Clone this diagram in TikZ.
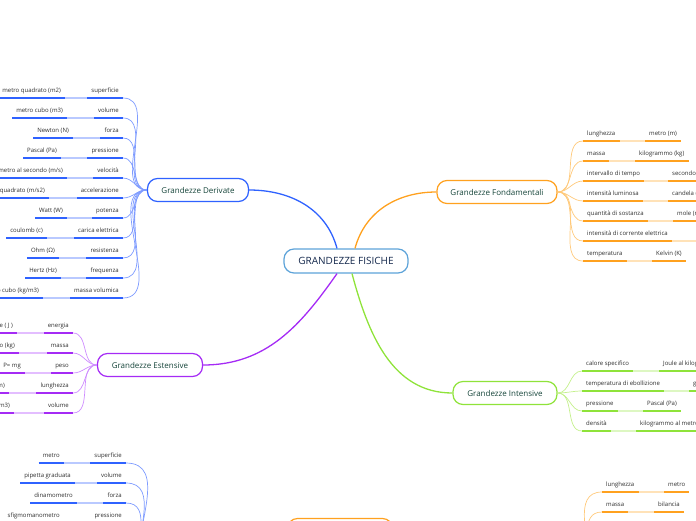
\documentclass[tikz,border=0pt]{standalone}
\usepackage{fontspec}
\setmainfont{Open Sans}
\usetikzlibrary{positioning}

\definecolor{rootline}{HTML}{5DA3D9}
\definecolor{roottext}{HTML}{15294D}
\definecolor{topictext}{HTML}{16453A}
\definecolor{leaftext}{HTML}{2E2E2E}
\definecolor{dblue}{HTML}{2F62FF}
\definecolor{dlink}{HTML}{7E9BFF}
\definecolor{dlight}{HTML}{B9C9FF}
\definecolor{epurple}{HTML}{A52BF5}
\definecolor{elink}{HTML}{CE8CFF}
\definecolor{elight}{HTML}{E3BDFF}
\definecolor{forange}{HTML}{FFA11F}
\definecolor{flink}{HTML}{FFC97A}
\definecolor{flight}{HTML}{FFE2B8}
\definecolor{igreen}{HTML}{8FE33A}
\definecolor{ilink}{HTML}{C4F08C}
\definecolor{ilight}{HTML}{DDF7C2}

\begin{document}
\begin{tikzpicture}[
  x=1pt,y=-1pt,
  every node/.style={scale=1.0},
  root/.style={draw=rootline,line width=1.2pt,rounded corners=10pt,fill=white,minimum width=124pt,minimum height=24pt,font=\fontsize{10}{11}\selectfont,text=roottext},
  topic/.style={draw=#1,line width=1.2pt,rounded corners=10pt,fill=white,minimum height=23pt,font=\fontsize{8}{9}\selectfont,text=topictext},
  leaf/.style={inner xsep=4pt,inner ysep=3.5pt,text height=4pt,text depth=1.5pt,font=\fontsize{6}{7}\selectfont,text=leaftext,
    append after command={(\tikzlastnode.south west) edge[draw=#1,line width=1.6pt] (\tikzlastnode.south east)}},
  gap/.style={draw=#1,line width=1.6pt},
  link/.style={draw=#1,line width=0.7pt},
  trunk/.style={draw=#1,line width=1.3pt},
]
\useasboundingbox (0,0) rectangle (696,520);
\clip (0,0) rectangle (696,520);

% main topics
\node (root) [root] at (346,261) {GRANDEZZE FISICHE};
\node (deriv) [topic=dblue,minimum width=101pt] at (198,190) {Grandezze Derivate};
\node (fond) [topic=forange,minimum width=120pt] at (497,192) {Grandezze Fondamentali};
\node (inten) [topic=igreen,minimum width=104pt] at (505,393) {Grandezze Intensive};
\node (esten) [topic=epurple,minimum width=105pt] at (150,365) {Grandezze Estensive};
\node (strum) [topic=forange,minimum width=105pt] at (340,530) {};
\draw[trunk=dblue] ([xshift=-9pt]root.north) to[out=105,in=0] (deriv.east);
\draw[trunk=forange] ([xshift=9pt]root.north) to[out=75,in=180] (fond.west);
\draw[trunk=epurple] ([xshift=-9pt]root.south) to[out=235,in=0] (esten.east);
\draw[trunk=igreen] ([xshift=6pt]root.south) to[out=-75,in=180] (inten.west);

% Grandezze Derivate
\node (d1) [leaf=dblue,anchor=south east] at (123,98) {superficie};
\node (d1u) [leaf=dblue,anchor=south east] at (65,98) {metro quadrato (m2)};
\node (d2) [leaf=dblue,anchor=south east] at (123,118) {volume};
\node (d2u) [leaf=dblue,anchor=south east] at (67,118) {metro cubo (m3)};
\node (d3) [leaf=dblue,anchor=south east] at (123,138) {forza};
\node (d3u) [leaf=dblue,anchor=south east] at (73,138) {Newton (N)};
\node (d4) [leaf=dblue,anchor=south east] at (123,158) {pressione};
\node (d4u) [leaf=dblue,anchor=south east] at (61,158) {Pascal (Pa)};
\node (d5) [leaf=dblue,anchor=south east] at (123,178) {velocità};
\node (d5u) [leaf=dblue,anchor=south east] at (67,178) {metro al secondo (m/s)};
\node (d6) [leaf=dblue,anchor=south east] at (123,198) {accelerazione};
\node (d6u) [leaf=dblue,anchor=south east] at (49,198) {metro al secondo quadrato (m/s2)};
\node (d7) [leaf=dblue,anchor=south east] at (123,218) {potenza};
\node (d7u) [leaf=dblue,anchor=south east] at (67,218) {Watt (W)};
\node (d8) [leaf=dblue,anchor=south east] at (123,238) {carica elettrica};
\node (d8u) [leaf=dblue,anchor=south east] at (47,238) {coulomb (c)};
\node (d9) [leaf=dblue,anchor=south east] at (123,258) {resistenza};
\node (d9u) [leaf=dblue,anchor=south east] at (59,258) {Ohm (Ω)};
\node (d10) [leaf=dblue,anchor=south east] at (123,278) {frequenza};
\node (d10u) [leaf=dblue,anchor=south east] at (61,278) {Hertz (Hz)};
\node (d11) [leaf=dblue,anchor=south east] at (123,298) {massa volumica};
\node (d11u) [leaf=dblue,anchor=south east] at (43,298) {kilogrammo al metro cubo (kg/m3)};
\draw[gap=dlight] (d1u.south east) -- (d1.south west);
\draw[gap=dlight] (d2u.south east) -- (d2.south west);
\draw[gap=dlight] (d3u.south east) -- (d3.south west);
\draw[gap=dlight] (d4u.south east) -- (d4.south west);
\draw[gap=dlight] (d5u.south east) -- (d5.south west);
\draw[gap=dlight] (d6u.south east) -- (d6.south west);
\draw[gap=dlight] (d7u.south east) -- (d7.south west);
\draw[gap=dlight] (d8u.south east) -- (d8.south west);
\draw[gap=dlight] (d9u.south east) -- (d9.south west);
\draw[gap=dlight] (d10u.south east) -- (d10.south west);
\draw[gap=dlight] (d11u.south east) -- (d11.south west);
\draw[link=dlink] (d1.south east) to[out=0,in=180] (deriv.west);
\draw[link=dlink] (d2.south east) to[out=0,in=180] (deriv.west);
\draw[link=dlink] (d3.south east) to[out=0,in=180] (deriv.west);
\draw[link=dlink] (d4.south east) to[out=0,in=180] (deriv.west);
\draw[link=dlink] (d5.south east) to[out=0,in=180] (deriv.west);
\draw[link=dlink] (d6.south east) to[out=0,in=180] (deriv.west);
\draw[link=dlink] (d7.south east) to[out=0,in=180] (deriv.west);
\draw[link=dlink] (d8.south east) to[out=0,in=180] (deriv.west);
\draw[link=dlink] (d9.south east) to[out=0,in=180] (deriv.west);
\draw[link=dlink] (d10.south east) to[out=0,in=180] (deriv.west);
\draw[link=dlink] (d11.south east) to[out=0,in=180] (deriv.west);

% Grandezze Estensive
\node (e1) [leaf=epurple,anchor=south east] at (73,333) {energia};
\node (e1u) [leaf=epurple,anchor=south east] at (17,333) {Joule ( J )};
\node (e2) [leaf=epurple,anchor=south east] at (73,353) {massa};
\node (e2u) [leaf=epurple,anchor=south east] at (19,353) {kilogrammo (kg)};
\node (e3) [leaf=epurple,anchor=south east] at (73,373) {peso};
\node (e3u) [leaf=epurple,anchor=south east] at (25,373) {P= mg};
\node (e4) [leaf=epurple,anchor=south east] at (73,393) {lunghezza};
\node (e4u) [leaf=epurple,anchor=south east] at (9,393) {metro (m)};
\node (e5) [leaf=epurple,anchor=south east] at (73,413) {volume};
\node (e5u) [leaf=epurple,anchor=south east] at (14,413) {metro cubo (m3)};
\draw[gap=elight] (e1u.south east) -- (e1.south west);
\draw[gap=elight] (e2u.south east) -- (e2.south west);
\draw[gap=elight] (e3u.south east) -- (e3.south west);
\draw[gap=elight] (e4u.south east) -- (e4.south west);
\draw[gap=elight] (e5u.south east) -- (e5.south west);
\draw[link=elink] (e1.south east) to[out=0,in=180] (esten.west);
\draw[link=elink] (e2.south east) to[out=0,in=180] (esten.west);
\draw[link=elink] (e3.south east) to[out=0,in=180] (esten.west);
\draw[link=elink] (e4.south east) to[out=0,in=180] (esten.west);
\draw[link=elink] (e5.south east) to[out=0,in=180] (esten.west);

% Grandezze Fondamentali
\node (f1) [leaf=forange,anchor=south west] at (583,141) {lunghezza};
\node (f1u) [leaf=forange,anchor=south west] at (645,141) {metro (m)};
\node (f2) [leaf=forange,anchor=south west] at (583,161) {massa};
\node (f2u) [leaf=forange,anchor=south west] at (635,161) {kilogrammo (kg)};
\node (f3) [leaf=forange,anchor=south west] at (583,181) {intervallo di tempo};
\node (f3u) [leaf=forange,anchor=south west] at (668,181) {secondo (s)};
\node (f4) [leaf=forange,anchor=south west] at (583,201) {intensità luminosa};
\node (f4u) [leaf=forange,anchor=south west] at (668,201) {candela (cd)};
\node (f5) [leaf=forange,anchor=south west] at (583,221) {quantità di sostanza};
\node (f5u) [leaf=forange,anchor=south west] at (673,221) {mole (mol)};
\node (f6) [leaf=forange,anchor=south west] at (583,241) {intensità di corrente elettrica};
\coordinate (f6u) at (710,241);
\node (f7) [leaf=forange,anchor=south west] at (583,261) {temperatura};
\node (f7u) [leaf=forange,anchor=south west] at (652,261) {Kelvin (K)};
\draw[gap=flight] (f1.south east) -- (f1u.south west);
\draw[gap=flight] (f2.south east) -- (f2u.south west);
\draw[gap=flight] (f3.south east) -- (f3u.south west);
\draw[gap=flight] (f4.south east) -- (f4u.south west);
\draw[gap=flight] (f5.south east) -- (f5u.south west);
\draw[gap=flight] (f6.south east) -- (f6u);
\draw[gap=flight] (f7.south east) -- (f7u.south west);
\draw[link=flink] (fond.east) to[out=0,in=180] (f1.south west);
\draw[link=flink] (fond.east) to[out=0,in=180] (f2.south west);
\draw[link=flink] (fond.east) to[out=0,in=180] (f3.south west);
\draw[link=flink] (fond.east) to[out=0,in=180] (f4.south west);
\draw[link=flink] (fond.east) to[out=0,in=180] (f5.south west);
\draw[link=flink] (fond.east) to[out=0,in=180] (f6.south west);
\draw[link=flink] (fond.east) to[out=0,in=180] (f7.south west);

% Grandezze Intensive
\node (i1) [leaf=igreen,anchor=south west] at (582,371) {calore specifico};
\node (i1u) [leaf=igreen,anchor=south west] at (659,371) {Joule al kilogrammo per kelvin (J/kg K)};
\node (i2) [leaf=igreen,anchor=south west] at (582,391) {temperatura di ebollizione};
\node (i2u) [leaf=igreen,anchor=south west] at (689,391) {gradi Celsius (°C)};
\node (i3) [leaf=igreen,anchor=south west] at (582,411) {pressione};
\node (i3u) [leaf=igreen,anchor=south west] at (643,411) {Pascal (Pa)};
\node (i4) [leaf=igreen,anchor=south west] at (582,431) {densità};
\node (i4u) [leaf=igreen,anchor=south west] at (636,431) {kilogrammo al metro cubo (kg/m3)};
\draw[gap=ilight] (i1.south east) -- (i1u.south west);
\draw[gap=ilight] (i2.south east) -- (i2u.south west);
\draw[gap=ilight] (i3.south east) -- (i3u.south west);
\draw[gap=ilight] (i4.south east) -- (i4u.south west);
\draw[link=ilink] (inten.east) to[out=0,in=180] (i1.south west);
\draw[link=ilink] (inten.east) to[out=0,in=180] (i2.south west);
\draw[link=ilink] (inten.east) to[out=0,in=180] (i3.south west);
\draw[link=ilink] (inten.east) to[out=0,in=180] (i4.south west);

% strumenti (lower part)
\coordinate (sl) at (136,570);
\node (s1) [leaf=dblue,anchor=south east] at (126,463) {superficie};
\node (s1u) [leaf=dblue,anchor=south east] at (64,463) {metro};
\node (s2) [leaf=dblue,anchor=south east] at (126,483) {volume};
\node (s2u) [leaf=dblue,anchor=south east] at (75,483) {pipetta graduata};
\node (s3) [leaf=dblue,anchor=south east] at (126,503) {forza};
\node (s3u) [leaf=dblue,anchor=south east] at (77,503) {dinamometro};
\node (s4) [leaf=dblue,anchor=south east] at (126,523) {pressione};
\node (s4u) [leaf=dblue,anchor=south east] at (64,523) {sfigmomanometro};
\draw[gap=dlight] (s1u.south east) -- (s1.south west);
\draw[gap=dlight] (s2u.south east) -- (s2.south west);
\draw[gap=dlight] (s3u.south east) -- (s3.south west);
\draw[gap=dlight] (s4u.south east) -- (s4.south west);
\draw[link=dlink] (s1.south east) to[out=0,in=90] (sl);
\draw[link=dlink] (s2.south east) to[out=0,in=90] (sl);
\draw[link=dlink] (s3.south east) to[out=0,in=90] (sl);
\draw[link=dlink] (s4.south east) to[out=0,in=90] (sl);

\coordinate (sr) at (590,570);
\node (r1) [leaf=forange,anchor=south west] at (602,492) {lunghezza};
\node (r1u) [leaf=forange,anchor=south west] at (664,492) {metro};
\node (r2) [leaf=forange,anchor=south west] at (602,512) {massa};
\node (r2u) [leaf=forange,anchor=south west] at (654,512) {bilancia};
\draw[gap=flight] (r1.south east) -- (r1u.south west);
\draw[gap=flight] (r2.south east) -- (r2u.south west);
\draw[link=flink] (sr) to[out=90,in=180] (r1.south west);
\draw[link=flink] (sr) to[out=90,in=180] (r2.south west);
\end{tikzpicture}
\end{document}
